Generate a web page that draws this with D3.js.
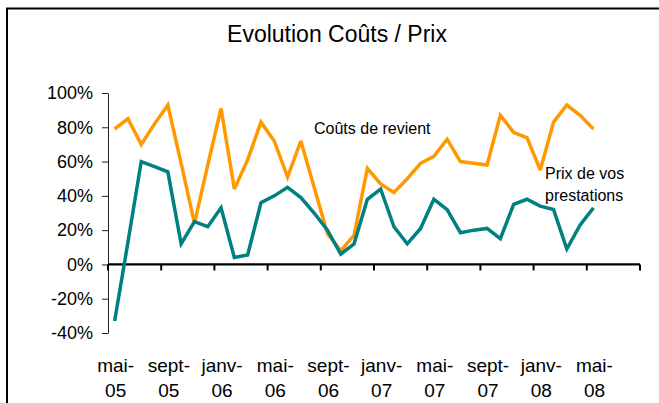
<!DOCTYPE html>
<html>
<head>
<meta charset="utf-8">
<script src="https://cdn.jsdelivr.net/npm/d3@7"></script>
<style>
  html, body { margin: 0; padding: 0; background: #fff; }
  svg { display: block; font-family: "Liberation Sans", Arial, sans-serif; }
</style>
</head>
<body>
<svg id="chart" width="659" height="403"></svg>
<script>
// ---- data ----
const monthNames = ["janv", "févr", "mars", "avr", "mai", "juin", "juil", "août", "sept", "oct", "nov", "déc"];
const startMonth = 4;   // mai
const startYear = 5;    // 2005
const categoryCount = 40;
const categories = d3.range(categoryCount).map(i => {
  const m = (startMonth + i) % 12;
  const y = startYear + Math.floor((startMonth + i) / 12);
  return monthNames[m] + "-" + String(y).padStart(2, "0");
});
const coutsRevient = [79, 85, 70, 82, 93, 59, 24, 58, 91, 44, 61, 83, 72, 51, 72, 45, 18, 8, 17, 56,
                      47, 42, 50, 59, 63, 73, 60, 59, 58, 87, 77, 74, 55, 83, 93, 87, 79];
const prixPrestations = [-33, 13, 60, 57, 54, 12, 25, 22, 33, 4, 5.5, 36, 40, 45, 39, 30, 20, 6, 12, 38,
                         44, 22, 12, 21, 38, 32, 18.5, 20, 21, 15, 35, 38, 34, 32, 9, 23, 33];
const yTicks = [-40, -20, 0, 20, 40, 60, 80, 100];
const title = "Evolution Coûts / Prix";
const labelCouts = "Coûts de revient";
const labelPrix = ["Prix de vos", "prestations"];

// ---- drawing ----
const svg = d3.select("#chart");
const x = d3.scaleBand().domain(d3.range(categoryCount)).range([108, 640]).paddingInner(0).paddingOuter(0);
const y = d3.scaleLinear().domain([-40, 100]).range([333, 93]);
const cx = i => x(i) + x.bandwidth() / 2;

// frame
svg.append("path")
  .attr("d", "M7,403 L7,8.5 L659,8.5")
  .attr("fill", "none").attr("stroke", "#000").attr("stroke-width", 2);

// title
svg.append("text")
  .attr("x", 337).attr("y", 41.5)
  .attr("text-anchor", "middle")
  .attr("font-size", 23).attr("fill", "#000")
  .text(title);

// y axis
const yAxis = svg.append("g")
  .attr("transform", "translate(108,0)")
  .call(d3.axisLeft(y).tickValues(yTicks).tickSize(6).tickSizeOuter(0).tickPadding(9)
        .tickFormat(d => d + "%"));
yAxis.select(".domain").attr("stroke", "#222").attr("stroke-width", 1);
yAxis.selectAll(".tick line").attr("stroke", "#222");
yAxis.selectAll(".tick text")
  .attr("font-size", 18).attr("font-family", "Liberation Sans, Arial, sans-serif").attr("fill", "#000");

// x axis line at 0%
svg.append("line")
  .attr("x1", x.range()[0]).attr("x2", x.range()[1])
  .attr("y1", y(0)).attr("y2", y(0))
  .attr("stroke", "#000").attr("stroke-width", 2.2);

// x ticks every 4 categories (at category boundaries)
const tickIdx = d3.range(0, categoryCount + 1, 4);
svg.append("g").selectAll("line").data(tickIdx).join("line")
  .attr("x1", i => (i < categoryCount ? x(i) : x.range()[1]))
  .attr("x2", i => (i < categoryCount ? x(i) : x.range()[1]))
  .attr("y1", y(0)).attr("y2", y(0) + 6)
  .attr("stroke", "#000").attr("stroke-width", 2);

// x labels every 4 categories, two lines
const labelIdx = d3.range(0, categoryCount, 4);
const xl = svg.append("g").selectAll("text").data(labelIdx).join("text")
  .attr("text-anchor", "middle").attr("font-size", 19).attr("fill", "#000");
xl.append("tspan").attr("x", i => cx(i) + 1).attr("y", 372).text(i => categories[i].split("-")[0] + "-");
xl.append("tspan").attr("x", i => cx(i) + 1).attr("y", 397).text(i => categories[i].split("-")[1]);

// lines
const line = d3.line().x((d, i) => cx(i)).y(d => y(d));
svg.append("path").datum(coutsRevient)
  .attr("d", line).attr("fill", "none")
  .attr("stroke", "#FF9900").attr("stroke-width", 3.5).attr("stroke-linejoin", "miter").attr("stroke-miterlimit", 3);
svg.append("path").datum(prixPrestations)
  .attr("d", line).attr("fill", "none")
  .attr("stroke", "#008080").attr("stroke-width", 3.5).attr("stroke-linejoin", "miter").attr("stroke-miterlimit", 3);

// annotations
svg.append("text").attr("x", 314).attr("y", 134).attr("font-size", 16).attr("fill", "#000").text(labelCouts);
svg.append("text").attr("x", 545).attr("y", 179).attr("font-size", 16).attr("fill", "#000").text(labelPrix[0]);
svg.append("text").attr("x", 545).attr("y", 201).attr("font-size", 16).attr("fill", "#000").text(labelPrix[1]);
</script>
</body>
</html>
